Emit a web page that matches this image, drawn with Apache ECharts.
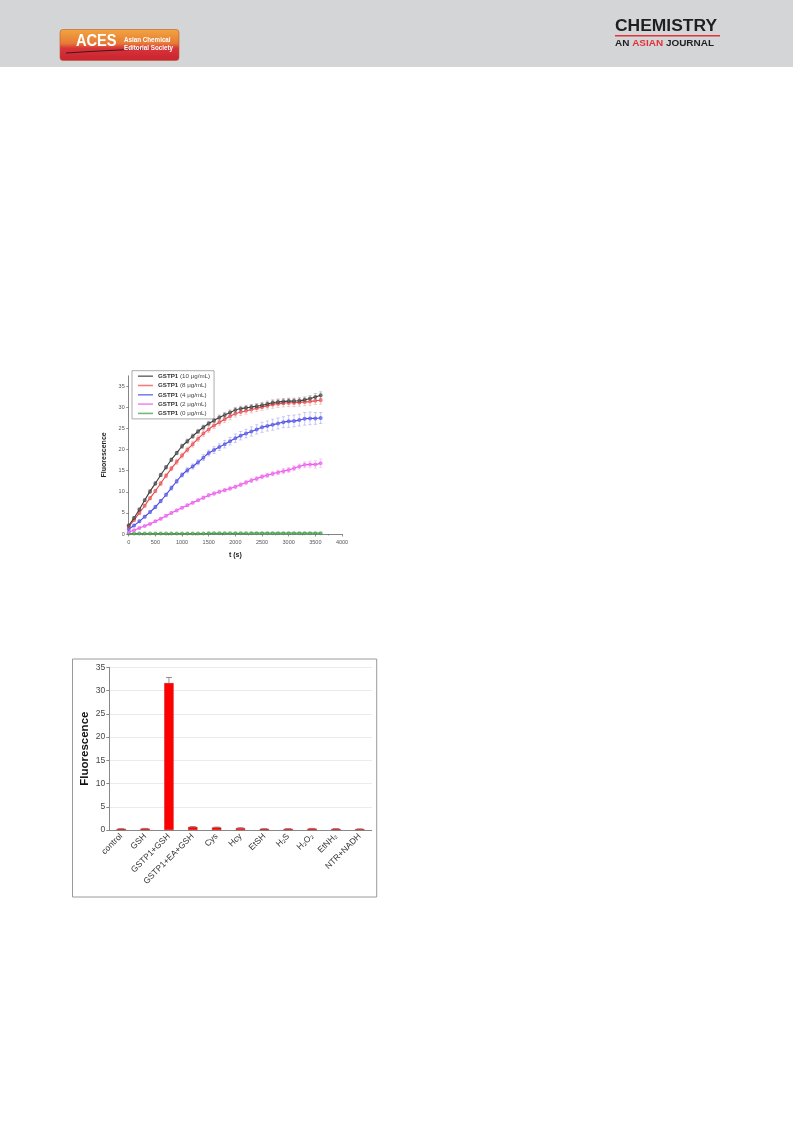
<!DOCTYPE html>
<html><head><meta charset="utf-8">
<script src="https://cdn.jsdelivr.net/npm/echarts@6/dist/echarts.min.js"></script>
<style>html,body{margin:0;padding:0;background:#fff}#c{width:793px;height:1121px}</style>
</head><body><div id="c"></div>
<script>
// ---------- Chart 1 data (kinetics) ----------
const times = [0,100,200,300,400,500,600,700,800,900,1000,1100,1200,1300,1400,1500,1600,1700,1800,1900,2000,2100,2200,2300,2400,2500,2600,2700,2800,2900,3000,3100,3200,3300,3400,3500,3600];
const seriesNames = ['GSTP1 (10 μg/mL)','GSTP1 (8 μg/mL)','GSTP1 (4 μg/mL)','GSTP1 (2 μg/mL)','GSTP1 (0 μg/mL)'];
const seriesColors = ['#3a3a3a','#e8474a','#4a4ae6','#ee55ee','#3d9a45'];
const gstp10 = [2.0,3.8,5.8,8.0,10.1,12.0,14.0,15.8,17.6,19.2,20.8,22.0,23.2,24.3,25.3,26.2,26.9,27.6,28.2,28.8,29.4,29.7,29.9,30.1,30.3,30.5,30.8,31.1,31.3,31.4,31.5,31.5,31.6,31.8,32.1,32.5,32.9];
const gstp8  = [1.8,3.3,5.0,6.7,8.5,10.2,12.0,13.8,15.5,17.1,18.6,20.0,21.3,22.6,23.8,24.8,25.7,26.5,27.2,27.9,28.5,28.9,29.2,29.5,29.8,30.1,30.4,30.7,30.9,31.0,31.1,31.1,31.2,31.3,31.4,31.6,31.7];
const gstp4  = [1.2,2.0,3.0,4.1,5.2,6.4,7.8,9.3,10.9,12.5,14.0,15.1,16.0,17.0,18.1,19.2,19.9,20.6,21.3,22.0,22.7,23.3,23.8,24.3,24.8,25.3,25.6,25.9,26.2,26.5,26.7,26.8,27.0,27.3,27.4,27.4,27.5];
const gstp2  = [0.5,0.9,1.4,1.9,2.4,3.0,3.6,4.3,5.0,5.6,6.2,6.8,7.4,8.0,8.6,9.2,9.6,10.0,10.4,10.8,11.2,11.7,12.2,12.7,13.1,13.6,13.9,14.3,14.6,14.9,15.2,15.6,16.0,16.4,16.5,16.5,16.8];
const gstp0  = [0.1,0.1,0.1,0.1,0.1,0.1,0.1,0.1,0.1,0.1,0.1,0.1,0.1,0.1,0.1,0.15,0.15,0.15,0.15,0.15,0.15,0.15,0.15,0.2,0.2,0.2,0.2,0.2,0.2,0.2,0.2,0.2,0.2,0.2,0.2,0.2,0.2];
const err10 = [0.3,0.3,0.3,0.3,0.4,0.4,0.4,0.4,0.4,0.4,0.5,0.5,0.5,0.5,0.5,0.5,0.5,0.6,0.6,0.6,0.6,0.6,0.6,0.6,0.6,0.7,0.7,0.7,0.7,0.7,0.7,0.7,0.7,0.7,0.7,0.8,0.8];
const err8  = [0.3,0.3,0.3,0.3,0.4,0.4,0.5,0.5,0.5,0.6,0.6,0.6,0.7,0.7,0.7,0.7,0.7,0.7,0.8,0.8,0.8,0.8,0.8,0.8,0.8,0.8,0.8,0.9,0.9,0.9,0.9,0.9,0.9,0.9,0.9,0.9,0.9];
const err4  = [0.2,0.3,0.3,0.3,0.3,0.4,0.4,0.4,0.5,0.5,0.5,0.6,0.6,0.6,0.7,0.7,0.8,0.8,0.9,0.9,1.0,1.0,1.0,1.1,1.1,1.2,1.2,1.3,1.3,1.3,1.4,1.4,1.4,1.5,1.5,1.4,1.3];
const err2  = [0.1,0.1,0.2,0.2,0.2,0.2,0.3,0.3,0.3,0.3,0.3,0.3,0.3,0.3,0.4,0.4,0.4,0.4,0.4,0.4,0.4,0.4,0.5,0.5,0.5,0.5,0.5,0.5,0.5,0.6,0.6,0.6,0.6,0.7,0.8,0.9,1.0];
const err0  = [0.05,0.05,0.05,0.05,0.05,0.05,0.05,0.05,0.05,0.05,0.05,0.05,0.05,0.05,0.05,0.05,0.05,0.05,0.05,0.05,0.05,0.05,0.05,0.05,0.05,0.05,0.05,0.05,0.05,0.05,0.05,0.05,0.05,0.05,0.05,0.05,0.05];
const yTicks1 = [0,5,10,15,20,25,30,35];

// ---------- Chart 2 data (selectivity) ----------
const categories = ['control','GSH','GSTP1+GSH','GSTP1+EA+GSH','Cys','Hcy','EtSH','H₂S','H₂O₂','EtNH₂','NTR+NADH'];
const barValues = [0.25,0.3,31.6,0.65,0.55,0.4,0.25,0.25,0.3,0.25,0.2];
const barErrors = [0.05,0.05,1.2,0.1,0.08,0.1,0.05,0.05,0.05,0.05,0.05];

const allVals = [gstp10,gstp8,gstp4,gstp2,gstp0];
const allErrs = [err10,err8,err4,err2,err0];

function errRender(color, capW, lw) {
  return function (params, api) {
    const x = api.value(0), y = api.value(1), e = api.value(2);
    const hi = api.coord([x, y + e]), lo = api.coord([x, y - e]);
    const style = { stroke: color, lineWidth: lw, fill: null, opacity: 0.55 };
    return { type: 'group', children: [
      { type: 'line', shape: { x1: hi[0], y1: hi[1], x2: lo[0], y2: lo[1] }, style },
      { type: 'line', shape: { x1: hi[0] - capW, y1: hi[1], x2: hi[0] + capW, y2: hi[1] }, style },
      { type: 'line', shape: { x1: lo[0] - capW, y1: lo[1], x2: lo[0] + capW, y2: lo[1] }, style }
    ]};
  };
}

const series = [];
allVals.forEach((vals, k) => {
  series.push({
    name: 'err' + k, type: 'custom', xAxisIndex: 0, yAxisIndex: 0, z: 1, silent: true,
    renderItem: errRender(seriesColors[k], 1.6, 0.5),
    data: times.map((t, i) => [t, vals[i], allErrs[k][i]])
  });
  series.push({
    name: seriesNames[k], type: 'line', xAxisIndex: 0, yAxisIndex: 0, z: 3 + (4 - k),
    symbol: 'emptyCircle', symbolSize: 2, showSymbol: true, smooth: 0.3,
    lineStyle: { color: seriesColors[k], width: 1.1 },
    itemStyle: { color: seriesColors[k], borderWidth: 0.4, opacity: 0.7 },
    data: times.map((t, i) => [t, vals[i]])
  });
});
series.push({
  name: 'bars', type: 'bar', xAxisIndex: 1, yAxisIndex: 1, barWidth: '39%',
  itemStyle: { color: '#ff0000', borderColor: '#c81010', borderWidth: 0.5 },
  data: barValues
});
series.push({
  name: 'barErr', type: 'custom', xAxisIndex: 1, yAxisIndex: 1, z: 5, silent: true,
  renderItem: function (params, api) {
    const x = api.value(0), y = api.value(1), e = api.value(2);
    const hi = api.coord([x, y + e]), mid = api.coord([x, y]);
    const style = { stroke: '#666', lineWidth: 0.7 };
    return { type: 'group', children: [
      { type: 'line', shape: { x1: hi[0], y1: hi[1], x2: mid[0], y2: mid[1] }, style },
      { type: 'line', shape: { x1: hi[0] - 3, y1: hi[1], x2: hi[0] + 3, y2: hi[1] }, style }
    ]};
  },
  data: categories.map((c, i) => [i, barValues[i], barErrors[i]])
});

const axisGray = '#666';
const option = {
  animation: false,
  backgroundColor: '#ffffff',
  textStyle: { fontFamily: 'Liberation Sans, Arial, sans-serif' },
  grid: [
    { left: 128.7, top: 375.8, width: 213.3, height: 158.2 },
    { left: 109.3, top: 667.3, width: 262.4, height: 162.7 }
  ],
  xAxis: [
    { gridIndex: 0, type: 'value', min: 0, max: 4000, interval: 500,
      name: 't (s)', nameLocation: 'middle', nameGap: 18,
      nameTextStyle: { fontSize: 7, fontWeight: 'bold', color: '#222' },
      axisLine: { show: true, onZero: false, lineStyle: { color: axisGray, width: 0.8 } },
      axisTick: { show: true, length: 2.5, lineStyle: { color: axisGray, width: 0.7 } },
      minorTick: { show: true, splitNumber: 2, length: 1.5, lineStyle: { color: axisGray, width: 0.6 } },
      axisLabel: { fontSize: 5.5, color: '#555', margin: 5, formatter: v => String(v) },
      splitLine: { show: false } },
    { gridIndex: 1, type: 'category', data: categories,
      axisLine: { show: true, lineStyle: { color: '#888', width: 1 } },
      axisTick: { show: false },
      axisLabel: { interval: 0, rotate: 45, fontSize: 8.5, color: '#333', margin: 5 },
      splitLine: { show: false } }
  ],
  yAxis: [
    { gridIndex: 0, type: 'value', min: 0, max: 37.5, interval: 5,
      name: 'Fluorescence', nameLocation: 'middle', nameGap: 21,
      nameTextStyle: { fontSize: 7, fontWeight: 'bold', color: '#222' },
      axisLine: { show: true, lineStyle: { color: axisGray, width: 0.8 } },
      axisTick: { show: true, length: 2.5, lineStyle: { color: axisGray, width: 0.7 } },
      axisLabel: { fontSize: 5.5, color: '#555', margin: 4, showMaxLabel: false,
        formatter: v => yTicks1.indexOf(v) >= 0 ? String(v) : '' },
      splitLine: { show: false } },
    { gridIndex: 1, type: 'value', min: 0, max: 35, interval: 5,
      name: 'Fluorescence', nameLocation: 'middle', nameGap: 18,
      nameTextStyle: { fontSize: 11.5, fontWeight: 'bold', color: '#111' },
      axisLine: { show: true, lineStyle: { color: '#888', width: 1 } },
      axisTick: { show: true, length: 3, lineStyle: { color: '#888' } },
      axisLabel: { fontSize: 8.5, color: '#444', margin: 4 },
      splitLine: { show: true, lineStyle: { color: '#e4e4e4', width: 0.8 } } }
  ],
  legend: {
    data: seriesNames, orient: 'vertical', left: 132, top: 370.7,
    padding: [2, 4, 2, 6], itemGap: 2.3, itemWidth: 15, itemHeight: 1.6, icon: 'rect',
    borderColor: '#888', borderWidth: 0.7, backgroundColor: '#fff',
    formatter: n => '{b|GSTP1}' + n.slice(5),
    textStyle: { fontSize: 6.2, color: '#444', lineHeight: 7, rich: { b: { fontWeight: 'bold', fontSize: 6.2, color: '#333' } } }
  },
  graphic: [
    { type: 'rect', shape: { x: 0, y: 0, width: 793, height: 67 }, style: { fill: '#d4d5d7' }, z: -10 },
    { type: 'rect', shape: { x: 60, y: 29.5, width: 119, height: 31, r: 3 },
      style: { fill: { type: 'linear', x: 0, y: 0, x2: 0, y2: 1, colorStops: [
        { offset: 0, color: '#f3a640' }, { offset: 0.45, color: '#e67a35' }, { offset: 0.6, color: '#d8343a' }, { offset: 1, color: '#c8232f' } ] },
        stroke: '#b85a30', lineWidth: 0.6 } },
    { type: 'polyline', shape: { points: [[66, 53], [90, 51.5], [120, 50], [145, 49]] }, style: { stroke: '#3a1a1a', lineWidth: 1.1, fill: null } },
    { type: 'text', x: 76, y: 33, scaleX: 0.86, style: { text: 'ACES', fill: '#fff', font: 'bold 17px "Liberation Sans", Arial, sans-serif' } },
    { type: 'text', x: 124, y: 36.5, scaleX: 0.92, style: { text: 'Asian Chemical', fill: '#fff', font: 'bold 6.8px "Liberation Sans", Arial, sans-serif' } },
    { type: 'text', x: 124, y: 45, scaleX: 0.92, style: { text: 'Editorial Society', fill: '#fff', font: 'bold 6.8px "Liberation Sans", Arial, sans-serif' } },
    { type: 'text', x: 615, y: 18.5, scaleX: 1.09, style: { text: 'CHEMISTRY', fill: '#1f1f22', font: 'bold 16px "Liberation Sans", Arial, sans-serif' } },
    { type: 'rect', shape: { x: 615, y: 35, width: 105, height: 1.6 }, style: { fill: '#e0323a' } },
    { type: 'text', x: 615, y: 39.5, scaleX: 1.2, style: {
        text: '{a|AN }{r|ASIAN}{a| JOURNAL}',
        rich: { a: { fill: '#1f1f22', font: 'bold 8.3px "Liberation Sans", Arial, sans-serif' },
                r: { fill: '#e0323a', font: 'bold 8.3px "Liberation Sans", Arial, sans-serif' } } } },
    { type: 'rect', shape: { x: 72.5, y: 659, width: 304.2, height: 238 }, style: { fill: null, stroke: '#9a9a9a', lineWidth: 1 }, z: 10 }
  ],
  series
};
const chart = echarts.init(document.getElementById('c'), null, { renderer: 'canvas' });
chart.setOption(option);
</script>
</body></html>
